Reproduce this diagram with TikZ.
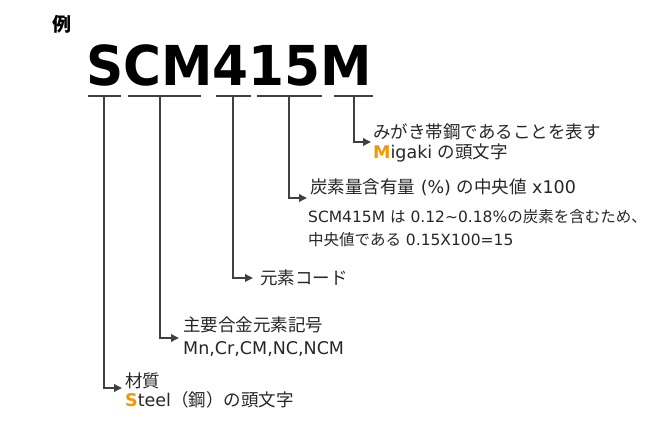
\documentclass[tikz,border=0pt]{standalone}
\usepackage{fontspec}
\usepackage{graphicx}
\setmainfont{DejaVu Sans}
\newfontfamily\jp{Noto Sans CJK JP}
\usetikzlibrary{arrows.meta}
\definecolor{ln}{HTML}{404040}
\definecolor{tx}{HTML}{262626}
\definecolor{og}{HTML}{F39800}
\tikzset{
  seg/.style={draw=ln, line width=1.8pt},
  arr/.style={draw=ln, line width=1.8pt, -{Triangle[length=8pt,width=7.5pt]}},
  lbl/.style={anchor=base west, inner sep=0pt, text=tx, font=\fontsize{17.5}{20}\selectfont},
  sml/.style={anchor=base west, inner sep=0pt, text=tx, font=\fontsize{15.5}{18}\selectfont},
}
\begin{document}
\begin{tikzpicture}[x=1pt,y=-1pt]
\useasboundingbox (0,0) rectangle (649,434);
% header
\node[inner sep=0pt, text=black, font=\jp\bfseries\fontsize{19}{20}\selectfont] (ex) at (62,24) {例};
\node[anchor=base west, inner sep=0pt, text=black, font=\fontsize{55}{60}\selectfont\bfseries] (title) at (86,85) {\scalebox{0.94}[1]{SCM415M}};
% underline segments
\coordinate (u1l) at (88,96);  \coordinate (u1r) at (121,96);
\coordinate (u2l) at (128,96); \coordinate (u2r) at (201,96);
\coordinate (u3l) at (216,96); \coordinate (u3r) at (251,96);
\coordinate (u4l) at (257,96); \coordinate (u4r) at (322,96);
\coordinate (u5l) at (334,96); \coordinate (u5r) at (373,96);
\draw[seg] (u1l) -- (u1r);
\draw[seg] (u2l) -- (u2r);
\draw[seg] (u3l) -- (u3r);
\draw[seg] (u4l) -- (u4r);
\draw[seg] (u5l) -- (u5r);
% tick tops
\coordinate (t1) at (104,96);
\coordinate (t2) at (160,96);
\coordinate (t3) at (233,96);
\coordinate (t4) at (289,96);
\coordinate (t5) at (354,96);
% arrow ends
\coordinate (a1) at (122,388);
\coordinate (a2) at (179,338);
\coordinate (a3) at (253,278);
\coordinate (a4) at (307,198);
\coordinate (a5) at (371,142);
\draw[arr] (t1) |- (a1);
\draw[arr] (t2) |- (a2);
\draw[arr] (t3) |- (a3);
\draw[arr] (t4) |- (a4);
\draw[arr] (t5) |- (a5);
% labels
\node[lbl] (m1) at (373,138) {\jp みがき帯鋼であることを表す};
\node[lbl] (m2) at (373,158) {{\color{og}\bfseries M}igaki {\jp の頭文字}};
\node[lbl] (c1) at (310,193) {{\jp 炭素量含有量} (\%) {\jp の中央値} x100};
\node[sml] (c2) at (308,222) {SCM415M {\jp は} 0.12\textasciitilde 0.18\%{\jp の炭素を含むため、}};
\node[sml] (c3) at (308,245) {{\jp 中央値である} 0.15X100=15};
\node[lbl] (e1) at (260,284) {\jp 元素コード};
\node[lbl] (g1) at (183,331) {\jp 主要合金元素記号};
\node[lbl] (g2) at (183,354) {Mn,Cr,CM,NC,NCM};
\node[lbl] (s1) at (125,387) {\jp 材質};
\node[lbl] (s2) at (125,406) {{\color{og}\bfseries S}teel{\jp （鋼）の頭文字}};
\end{tikzpicture}
\end{document}
